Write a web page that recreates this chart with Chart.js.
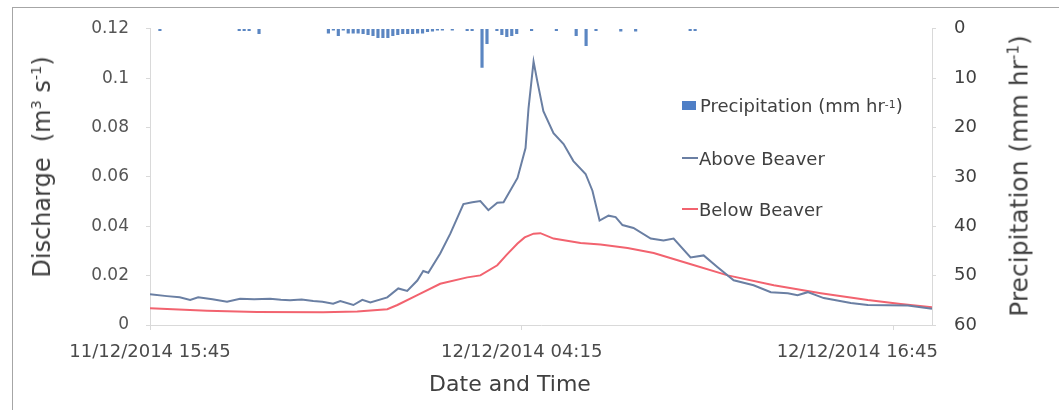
<!DOCTYPE html>
<html>
<head>
<meta charset="utf-8">
<script src="https://cdn.jsdelivr.net/npm/chart.js@4.4.1/dist/chart.umd.min.js"></script>
<style>
  html, body { margin: 0; padding: 0; background: #fff; }
  #wrap { position: relative; width: 1059px; height: 410px; overflow: hidden; font-family: "DejaVu Sans", sans-serif; }
  #frame { position: absolute; left: 12px; top: 7px; right: -5px; bottom: -5px; border-top: 1px solid #a6a6a6; border-left: 1px solid #a6a6a6; }
  #c { position: absolute; left: 0; top: 0; }
  .title { position: absolute; white-space: nowrap; color: #404040; }
  .rot { transform: translate(-50%, -50%) rotate(-90deg); }
  .title sup { font-size: 0.6em; line-height: 0; }
  #legend { position: absolute; left: 682px; top: 94px; font-size: 18px; color: #404040; }
  #legend .row { position: absolute; left: 0; white-space: nowrap; display: flex; align-items: center; height: 22px; }
  #legend sup { font-size: 0.6em; line-height: 0; }
  .swatch { display: inline-block; width: 14px; height: 9px; margin-right: 4px; }
  .dash { display: inline-block; width: 16px; height: 2px; margin-right: 1px; }
</style>
</head>
<body>
<div id="wrap">
  <div id="frame"></div>
  <canvas id="c" width="1059" height="410"></canvas>
  <div class="title rot" style="left:42px; top:167px; font-size:24px;">Discharge&nbsp;&nbsp;(m<sup>3</sup> s<sup>-1</sup>)</div>
  <div class="title rot" style="left:1019px; top:176px; font-size:25px;">Precipitation (mm hr<sup>-1</sup>)</div>
  <div class="title" style="left:510px; top:383px; font-size:22px; transform:translate(-50%,-50%);">Date and Time</div>
  <div id="legend">
    <div class="row" style="top:0px;"><span class="swatch" style="background:#4f7fc6"></span>Precipitation (mm hr<sup>-1</sup>)</div>
    <div class="row" style="top:53px;"><span class="dash" style="background:#6a7fa3"></span>Above Beaver</div>
    <div class="row" style="top:104px;"><span class="dash" style="background:#f2636f"></span>Below Beaver</div>
  </div>
</div>
<script>
'use strict';

// x values are hours since 11/12/2014 15:45
const xTickHours = [0, 12.5, 25];
const xTickLabels = ['11/12/2014 15:45', '12/12/2014 04:15', '12/12/2014 16:45'];

// Above Beaver discharge (m3/s)
const aboveHours = [0, 0.57, 1.0, 1.35, 1.62, 2.1, 2.59, 3.03, 3.5, 4.04,
  4.4, 4.71, 5.1, 5.49, 5.8, 6.16, 6.40, 6.84, 7.14, 7.41,
  7.98, 8.35, 8.65, 8.99, 9.19, 9.36, 9.76, 10.10, 10.54, 10.84,
  11.11, 11.38, 11.68, 11.89, 12.36, 12.63, 12.73, 12.90, 13.03, 13.23,
  13.57, 13.91, 14.24, 14.65, 14.88, 15.12, 15.42, 15.66, 15.89, 16.26,
  16.84, 17.27, 17.61, 18.18, 18.62, 19.09, 19.63, 20.30, 20.88, 21.45,
  21.78, 22.12, 22.66, 23.57, 24.14, 24.81, 25.49, 26.3];
const aboveQ = [0.0125, 0.0117, 0.0112, 0.0101, 0.0112, 0.0104, 0.0094, 0.0106, 0.0104, 0.0106,
  0.0102, 0.0100, 0.0103, 0.0097, 0.0094, 0.0086, 0.0097, 0.0081, 0.0102, 0.0091,
  0.0112, 0.0148, 0.0138, 0.0180, 0.0219, 0.0212, 0.0290, 0.0370, 0.0490, 0.0497,
  0.0502, 0.0465, 0.0495, 0.0497, 0.0596, 0.0717, 0.0878, 0.1067, 0.0985, 0.0866,
  0.0777, 0.0733, 0.0664, 0.0612, 0.0544, 0.0423, 0.0443, 0.0437, 0.0405, 0.0393,
  0.0350, 0.0342, 0.0350, 0.0274, 0.0282, 0.0234, 0.0181, 0.0161, 0.0133, 0.0129,
  0.0121, 0.0133, 0.0109, 0.0089, 0.0081, 0.0080, 0.0079, 0.0066];

// Below Beaver discharge (m3/s)
const belowHours = [0, 1.92, 3.6, 5.82, 6.97, 7.98, 8.32, 8.99, 9.76, 10.67,
  11.11, 11.68, 12.0, 12.36, 12.6, 12.90, 13.13, 13.57, 14.48, 15.15,
  16.06, 16.94, 18.08, 19.43, 20.98, 22.56, 24.14, 25.25, 26.3];
const belowQ = [0.0068, 0.0058, 0.0053, 0.0052, 0.0055, 0.0064, 0.0081, 0.0121, 0.0167, 0.0193,
  0.0201, 0.0242, 0.0285, 0.0330, 0.0355, 0.0370, 0.0372, 0.0350, 0.0332, 0.0326,
  0.0312, 0.0292, 0.0250, 0.0201, 0.0161, 0.0129, 0.0101, 0.0085, 0.0072];

// Precipitation, 10 minute steps (minutes since start, mm/hr)
const precipMinutes = [20, 180, 190, 200, 220, 360, 370, 380, 390, 400,
  410, 420, 430, 440, 450, 460, 470, 480, 490, 500,
  510, 520, 530, 540, 550, 560, 570, 580, 590, 610,
  640, 650, 670, 680, 700, 710, 720, 730, 740, 770,
  820, 860, 880, 900, 950, 980, 1090, 1100];
const precipMm = [0.4, 0.4, 0.4, 0.4, 1.0, 0.9, 0.3, 1.4, 0.3, 0.9,
  0.9, 0.9, 1.0, 1.2, 1.4, 1.8, 1.8, 1.8, 1.4, 1.2,
  1.0, 1.0, 1.0, 0.9, 0.9, 0.6, 0.5, 0.3, 0.3, 0.3,
  0.4, 0.4, 7.8, 3.0, 0.4, 1.2, 1.6, 1.4, 1.0, 0.4,
  0.4, 1.4, 3.4, 0.4, 0.5, 0.5, 0.4, 0.4];

const zip = (xs, ys) => xs.map((x, i) => ({ x, y: ys[i] }));
const axisGrey = '#d9d9d9';
const tickGrey = '#555555';
const fontFamily = '"DejaVu Sans", sans-serif';

// x labels drawn here so the last one can be pulled inside like Excel does
const xLabelPlugin = {
  id: 'xLabels',
  afterDraw(chart) {
    const s = chart.scales.x;
    const ctx = chart.ctx;
    ctx.save();
    ctx.font = '18px ' + fontFamily;
    ctx.fillStyle = '#4a4a4a';
    ctx.textAlign = 'center';
    ctx.textBaseline = 'middle';
    xTickHours.forEach((h, i) => {
      const w = ctx.measureText(xTickLabels[i]).width;
      let px = s.getPixelForValue(h);
      if (px + w / 2 > s.right + 6) px = s.right + 6 - w / 2;
      ctx.fillText(xTickLabels[i], px, s.top + 27);
    });
    ctx.restore();
  }
};

new Chart(document.getElementById('c'), {
  data: {
    datasets: [
      { type: 'line', label: 'Above Beaver', data: zip(aboveHours, aboveQ), yAxisID: 'y',
        borderColor: '#6a7fa3', borderWidth: 2, pointRadius: 0, tension: 0, order: 1 },
      { type: 'line', label: 'Below Beaver', data: zip(belowHours, belowQ), yAxisID: 'y',
        borderColor: '#f2636f', borderWidth: 2, pointRadius: 0, tension: 0, order: 2 },
      { type: 'bar', label: 'Precipitation', data: zip(precipMinutes.map(m => m / 60), precipMm), yAxisID: 'y1',
        backgroundColor: '#5b86c2', barThickness: 2.5, order: 3 }
    ]
  },
  options: {
    responsive: false,
    animation: false,
    layout: { padding: { top: 27, left: 0, right: 0, bottom: 0 } },
    plugins: { legend: { display: false }, tooltip: { enabled: false } },
    scales: {
      x: {
        type: 'linear', min: 0, max: 26.3, offset: false,
        afterBuildTicks: (s) => { s.ticks = xTickHours.map(v => ({ value: v })); },
        afterFit: (s) => { s.height = 85; },
        ticks: { callback: () => '' },
        grid: { drawOnChartArea: false, offset: false, color: axisGrey, tickLength: 5 },
        border: { color: axisGrey }
      },
      y: {
        position: 'left', min: 0, max: 0.12,
        afterFit: (s) => { s.width = 150; },
        ticks: { stepSize: 0.02, padding: 17, color: tickGrey, font: { family: fontFamily, size: 17 },
          callback: (v) => String(+v.toFixed(2)) },
        grid: { drawOnChartArea: false, color: axisGrey, tickLength: 4 },
        border: { color: axisGrey }
      },
      y1: {
        position: 'right', min: 0, max: 60, reverse: true,
        afterFit: (s) => { s.width = 127; },
        ticks: { stepSize: 10, padding: 18, color: '#404040', font: { family: fontFamily, size: 18 } },
        grid: { drawOnChartArea: false, color: axisGrey, tickLength: 4 },
        border: { color: axisGrey }
      }
    }
  },
  plugins: [xLabelPlugin]
});
</script>
</body>
</html>
